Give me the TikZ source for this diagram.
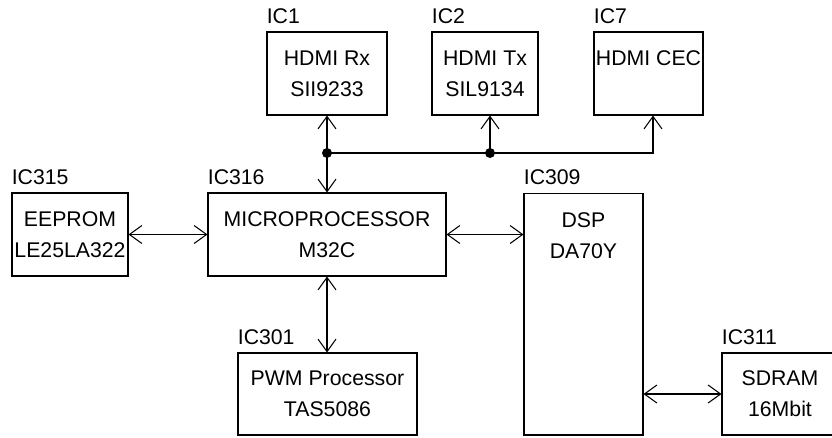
\documentclass[tikz,border=0pt]{standalone}
\usepackage{fontspec}
\setmainfont{Liberation Sans}
\usetikzlibrary{arrows.meta,positioning}

\newcommand{\chipfont}{\fontsize{12.1}{17.6}\selectfont}
\tikzset{
  chip/.style={draw, line width=0.6pt, align=center, font=\chipfont, inner sep=0pt},
  chiptext/.style={align=center, font=\chipfont, inner sep=0pt},
  tag/.style={font=\chipfont, anchor=south west, inner xsep=0pt, inner ysep=4pt},
  barb/.tip={Straight Barb[length=2.5mm,width=3.6mm]},
  bus/.style={line width=0.6pt, -barb},
  dbus/.style={line width=0.6pt, barb-barb},
  joint/.style={circle, fill, inner sep=0pt, minimum size=0.2cm}
}

\begin{document}
\begin{tikzpicture}[x=0.02cm, y=-0.02cm]
\useasboundingbox (0,0) rectangle (832,437);
% HDMI chips on top
\node[chip, minimum width=2.40cm, minimum height=1.66cm, label={[tag]north west:IC1}] (ic1) at (327,73.5) {HDMI Rx\\SII9233};
\node[chip, minimum width=2.12cm, minimum height=1.66cm, label={[tag]north west:IC2}] (ic2) at (485,73.5) {HDMI Tx\\SIL9134};
\node[chip, minimum width=2.18cm, minimum height=1.66cm, label={[tag]north west:IC7}] (ic7) at (648.5,73.5) {HDMI CEC\\\phantom{HDMI}};
% middle row
\node[chip, minimum width=2.32cm, minimum height=1.66cm, label={[tag]north west:IC315}] (ic315) at (70,234.5) {EEPROM\\LE25LA322};
\node[chip, minimum width=4.76cm, minimum height=1.66cm, label={[tag]north west:IC316}] (ic316) at (327,234.5) {MICROPROCESSOR\\M32C};
\node[chip, minimum width=2.38cm, minimum height=4.84cm, label={[tag]north west:IC309}] (ic309) at (583.5,314) {};
\node[chiptext] (dsp) at (583.5,235.5) {DSP\\DA70Y};
% bottom row
\node[chip, minimum width=3.58cm, minimum height=1.64cm, label={[tag]north west:IC301}] (ic301) at (327.5,394) {PWM Processor\\TAS5086};
\node[chip, minimum width=2.32cm, minimum height=1.64cm, label={[tag]north west:IC311}] (ic311) at (780,394) {SDRAM\\16Mbit};
% HDMI bus
\coordinate (j1) at (327,153);
\coordinate (j2) at (490,153);
\draw[line width=0.6pt] (j1) -- (j2);
\draw[bus] (j2) -| ([xshift=0.09cm]ic7.south);
\draw[bus] (j1) -- (j1 |- ic1.south);
\draw[bus] (j1) -- (j1 |- ic316.north);
\draw[bus] (j2) -- (j2 |- ic2.south);
\node[joint] at (j1) {};
\node[joint] at (j2) {};
% links
\draw[dbus] (ic315) -- (ic316);
\draw[dbus] (ic316.east) -- (ic316.east -| ic309.west);
\draw[dbus] (ic316.south) -- (ic316.south |- ic301.north);
\draw[dbus] (ic311.west -| ic309.east) -- (ic311.west);
\end{tikzpicture}
\end{document}
